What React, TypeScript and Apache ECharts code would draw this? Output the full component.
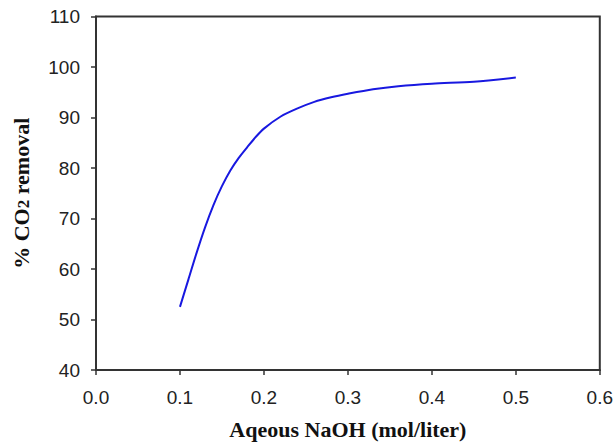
import React, { useEffect, useRef } from "react";
import * as echarts from "echarts";

const naohConc = [0.1, 0.11, 0.12, 0.13, 0.14, 0.15, 0.16, 0.17, 0.18, 0.19, 0.2, 0.22, 0.24, 0.26, 0.28, 0.3, 0.33, 0.36, 0.4, 0.45, 0.5];
const co2Removal = [52.5, 57.9, 63.3, 68.3, 72.7, 76.4, 79.5, 82.0, 84.1, 86.1, 87.8, 90.2, 91.8, 93.1, 94.0, 94.7, 95.6, 96.2, 96.7, 97.1, 97.9];
const xTicks = { min: 0, max: 0.6, interval: 0.1 };
const yTicks = { min: 40, max: 110, interval: 10 };

export default function App() {
  const ref = useRef<HTMLDivElement>(null);
  useEffect(() => {
    if (!ref.current) return;
    const chart = echarts.init(ref.current, null, { renderer: "svg" });
    const data = naohConc.map((x, i) => [x, co2Removal[i]]);
    chart.setOption({
      animation: false,
      backgroundColor: "#fff",
      grid: {
        left: 95,
        right: 14.5,
        top: 16.5,
        bottom: 72.5,
        show: true,
        borderColor: "#333",
        borderWidth: 2,
      },
      xAxis: {
        type: "value",
        min: xTicks.min,
        max: xTicks.max,
        interval: xTicks.interval,
        splitLine: { show: false },
        axisLine: { show: true, lineStyle: { color: "#333", width: 2 } },
        axisTick: { show: true, inside: false, length: 5, lineStyle: { color: "#333", width: 1.5 } },
        axisLabel: {
          margin: 18,
          fontFamily: "Liberation Sans, Arial, sans-serif",
          fontSize: 19,
          color: "#222",
          formatter: (v: number) => v.toFixed(1),
        },
        name: "Aqeous NaOH (mol/liter)",
        nameLocation: "middle",
        nameGap: 48,
        nameTextStyle: {
          fontFamily: "Liberation Serif, Times New Roman, serif",
          fontWeight: "bold",
          fontSize: 22,
          color: "#111",
        },
      },
      yAxis: {
        type: "value",
        min: yTicks.min,
        max: yTicks.max,
        interval: yTicks.interval,
        splitLine: { show: false },
        axisLine: { show: true, lineStyle: { color: "#333", width: 2 } },
        axisTick: { show: true, inside: false, length: 5, lineStyle: { color: "#333", width: 1.5 } },
        axisLabel: {
          margin: 16,
          fontFamily: "Liberation Sans, Arial, sans-serif",
          fontSize: 19,
          color: "#222",
        },
        name: "{a|% CO}{sub|2}{a| removal}",
        nameLocation: "middle",
        nameGap: 64,
        nameRotate: 90,
        nameTextStyle: {
          rich: {
            a: {
              fontFamily: "Liberation Serif, Times New Roman, serif",
              fontWeight: "bold",
              fontSize: 22,
              color: "#111",
              lineHeight: 28,
              verticalAlign: "bottom",
            },
            sub: {
              fontFamily: "Liberation Serif, Times New Roman, serif",
              fontWeight: "bold",
              fontSize: 17,
              color: "#111",
              lineHeight: 17,
              verticalAlign: "bottom",
              padding: [7, 0, 0, 0],
            },
          },
        },
      },
      series: [
        {
          type: "line",
          data,
          smooth: 0.3,
          showSymbol: false,
          lineStyle: { color: "#1818e0", width: 2 },
        },
      ],
    });
    return () => chart.dispose();
  }, []);
  return <div ref={ref} style={{ width: 616, height: 445, position: "absolute", left: 0, top: 0 }} />;
}
